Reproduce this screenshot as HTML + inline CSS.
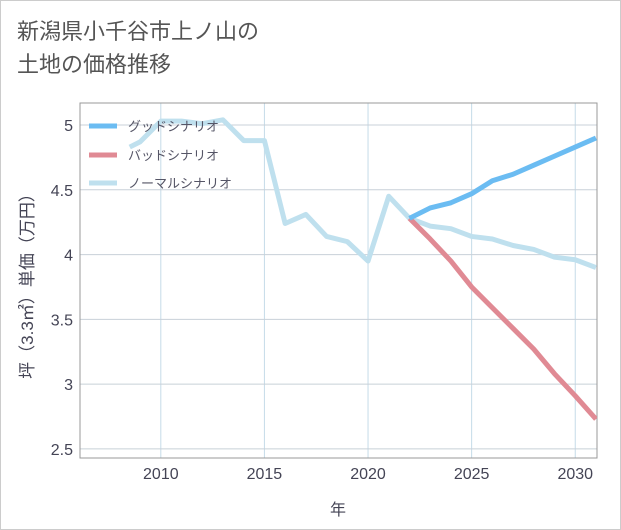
<!DOCTYPE html>
<html><head><meta charset="utf-8"><style>
body{margin:0;background:#fff;font-family:"Liberation Sans","Noto Sans CJK JP",sans-serif}
#wrap{position:relative;width:619px;height:528px;border:1px solid #ccc;background:#fff}
.title{position:absolute;left:16px;top:14px;font-size:22px;line-height:33px;color:#555;font-family:"Liberation Sans","Noto Sans CJK JP",sans-serif}
</style></head><body>
<div id="wrap">
<div class="title">新潟県小千谷市上ノ山の<br>土地の価格推移</div>
<svg id="chart" width="621" height="530" style="position:absolute;left:-1px;top:-1px"></svg>
</div>
<script>
const years=[2008.5,2009,2010,2011,2012,2013,2014,2015,2016,2017,2018,2019,2020,2021,2022,2023,2024,2025,2026,2027,2028,2029,2030,2031];
const normal=[4.83,4.87,5.03,5.03,5.01,5.04,4.88,4.88,4.24,4.31,4.14,4.1,3.95,4.45,4.28,4.22,4.2,4.14,4.12,4.07,4.04,3.98,3.96,3.9];
const futYears=[2022,2023,2024,2025,2026,2027,2028,2029,2030,2031];
const good=[4.28,4.36,4.4,4.47,4.57,4.62,4.69,4.76,4.83,4.9];
const bad=[4.28,4.12,3.95,3.75,3.59,3.43,3.27,3.08,2.91,2.73];
const xTicks=[2010,2015,2020,2025,2030];
const yTicks=[2.5,3,3.5,4,4.5,5];
const L=80,R=597,T=103,B=458;
const xMin=2006.1,xMax=2031.05,yMin=2.43,yMax=5.17;
const X=v=>L+(v-xMin)/(xMax-xMin)*(R-L);
const Y=v=>B-(v-yMin)/(yMax-yMin)*(B-T);
const svg=document.getElementById('chart');const NS='http://www.w3.org/2000/svg';
function mk(t,a,p){const e=document.createElementNS(NS,t);for(const k in a)e.setAttribute(k,a[k]);(p||svg).appendChild(e);return e;}
const grid=mk('g',{});


xTicks.forEach(v=>{
 const l=mk('line',{x1:X(v),x2:X(v),y1:T,y2:B,stroke:'#c5dbe8','stroke-width':1},grid);
 
 
 const t=mk('text',{x:X(v),y:479,'text-anchor':'middle','font-size':16,fill:'#445'});t.textContent=v;
 
 
});
yTicks.forEach(v=>{
 const l=mk('line',{x1:L,x2:R,y1:Y(v),y2:Y(v),stroke:'#c8d0d8','stroke-width':1},grid);
 
 
 const t=mk('text',{x:73,y:Y(v)+6,'text-anchor':'end','font-size':16,fill:'#445'});t.textContent=v;
 
 
});
const fr=mk('rect',{x:L,y:T,width:R-L,height:B-T,fill:'none',stroke:'#999','stroke-width':1});


const cp=mk('clipPath',{id:'cp'});mk('rect',{x:L,y:T,width:R-L,height:B-T},cp);
function line(xs,ys,c,name){const p=mk('polyline',{points:xs.map((x,i)=>X(x)+','+Y(ys[i])).join(' '),fill:'none',stroke:c,'stroke-width':5,'stroke-linejoin':'round','clip-path':'url(#cp)'});
 
 }
line(years,normal,'#bfe0ee','normal-scenario-line');
line(futYears,bad,'#e08a94','bad-scenario-line');
line(futYears,good,'#6bbcf2','good-scenario-line');
const leg=[['グッドシナリオ','#6bbcf2',126],['バッドシナリオ','#e08a94',155],['ノーマルシナリオ','#bfe0ee',183]];
leg.forEach(([n,c,y])=>{
 const g=mk('g',{});
 
 
 mk('line',{x1:89,x2:117,y1:y,y2:y,stroke:c,'stroke-width':5},g);
 const t=mk('text',{x:128,y:y+5,'font-size':13,fill:'#556'},g);t.textContent=n;
});
const xt=mk('text',{x:338,y:515,'text-anchor':'middle','font-size':16,fill:'#445'});xt.textContent='年';


const yt=mk('text',{x:0,y:0,'text-anchor':'middle','font-size':17,fill:'#445',transform:'translate(33,282) rotate(-90)'});yt.textContent='坪（3.3㎡）単価（万円）';


</script>
</body></html>
